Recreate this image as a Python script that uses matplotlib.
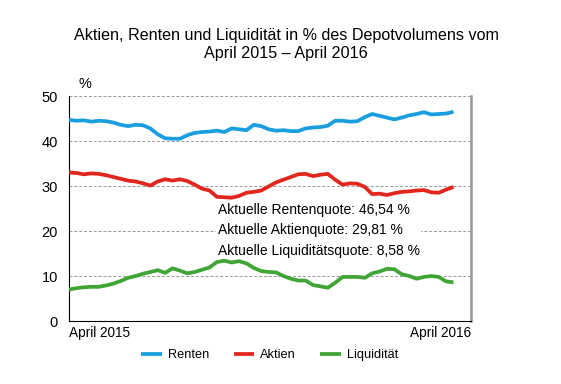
import matplotlib
matplotlib.use('Agg')
import matplotlib.pyplot as plt
import numpy as np

plt.rcParams['font.family'] = ['Liberation Sans', 'DejaVu Sans']

# weekly values, April 2015 - April 2016
renten = [44.7, 44.5, 44.6, 44.3, 44.5, 44.4, 44.1, 43.6, 43.3, 43.6,
          43.5, 42.8, 41.5, 40.6, 40.5, 40.5, 41.3, 41.8, 42.0, 42.1,
          42.3, 42.0, 42.8, 42.6, 42.4, 43.6, 43.3, 42.6, 42.3, 42.4,
          42.2, 42.2, 42.8, 43.0, 43.1, 43.4, 44.5, 44.5, 44.3, 44.4,
          45.3, 46.0, 45.6, 45.2, 44.8, 45.2, 45.7, 46.0, 46.4, 45.9,
          46.0, 46.1, 46.5]
aktien = [33.0, 32.9, 32.6, 32.8, 32.7, 32.4, 32.0, 31.6, 31.2, 31.0,
          30.6, 30.1, 31.0, 31.5, 31.2, 31.5, 31.1, 30.3, 29.4, 29.0,
          27.6, 27.5, 27.4, 27.8, 28.5, 28.7, 29.0, 29.9, 30.8, 31.4,
          32.0, 32.6, 32.7, 32.2, 32.5, 32.7, 31.4, 30.3, 30.6, 30.5,
          29.8, 28.2, 28.3, 28.0, 28.4, 28.7, 28.8, 29.0, 29.1, 28.6,
          28.5, 29.2, 29.8]
liquiditaet = [7.0, 7.3, 7.5, 7.6, 7.6, 7.9, 8.3, 8.9, 9.6, 10.0,
               10.5, 10.9, 11.3, 10.7, 11.7, 11.2, 10.6, 10.9, 11.4, 11.9,
               13.1, 13.4, 13.0, 13.3, 12.8, 11.8, 11.1, 10.9, 10.8, 10.0,
               9.4, 9.0, 9.0, 8.0, 7.7, 7.4, 8.5, 9.8, 9.8, 9.8,
               9.6, 10.6, 11.0, 11.6, 11.5, 10.4, 10.0, 9.4, 9.8, 10.0,
               9.8, 8.8, 8.6]
series_names = ['Renten', 'Aktien', 'Liquidität']
colors = ['#1a9ee0', '#e3261d', '#3fa535']
quoten = ['Aktuelle Rentenquote: 46,54 %',
          'Aktuelle Aktienquote: 29,81 %',
          'Aktuelle Liquiditätsquote: 8,58 %']
x_labels = ['April 2015', 'April 2016']

weeks = np.arange(len(renten))

fig = plt.figure(figsize=(5.61, 3.84), dpi=100)
ax = fig.add_axes([0.123, 0.164, 0.717, 0.586])

for vals, name, c in zip([renten, aktien, liquiditaet], series_names, colors):
    ax.plot(weeks, vals, color=c, lw=2.7, label=name, solid_capstyle='butt', zorder=3)

ax.set_xlim(0, 54.4)
ax.set_ylim(0, 50)
ax.set_yticks([0, 10, 20, 30, 40, 50])
ax.tick_params(axis='y', length=0, pad=8, labelsize=10.5)
ax.set_xticks([])
ax.yaxis.grid(True, linestyle=(0, (3, 2)), color='#999999', lw=0.7)
ax.set_axisbelow(True)

ax.spines['top'].set_visible(False)
ax.spines['left'].set_color('black')
ax.spines['bottom'].set_color('black')
ax.spines['right'].set_color('#999999')
ax.spines['right'].set_linewidth(1.8)

ax.text(0.0, -0.02, x_labels[0], transform=ax.transAxes, ha='left', va='top', fontsize=9.8)
ax.text(1.0, -0.02, x_labels[1], transform=ax.transAxes, ha='right', va='top', fontsize=9.8)
ax.text(0.04, 1.02, '%', transform=ax.transAxes, ha='center', va='bottom', fontsize=10.5)

ax.text(20.1, 20.2, '\n'.join(quoten), fontsize=10, ha='left', va='center',
        linespacing=1.6, zorder=2,
        bbox=dict(facecolor='white', edgecolor='none', pad=1))

fig.suptitle('Aktien, Renten und Liquidität in % des Depotvolumens vom\nApril 2015 \u2013 April 2016',
             x=0.51, y=0.928, fontsize=11.6, linespacing=1.3)

fig.legend(loc='center', bbox_to_anchor=(0.481, 0.075), ncol=3, frameon=False,
           fontsize=9.2, handlelength=1.6, columnspacing=1.9, handletextpad=0.5)

fig.savefig('out.png', dpi=100)
